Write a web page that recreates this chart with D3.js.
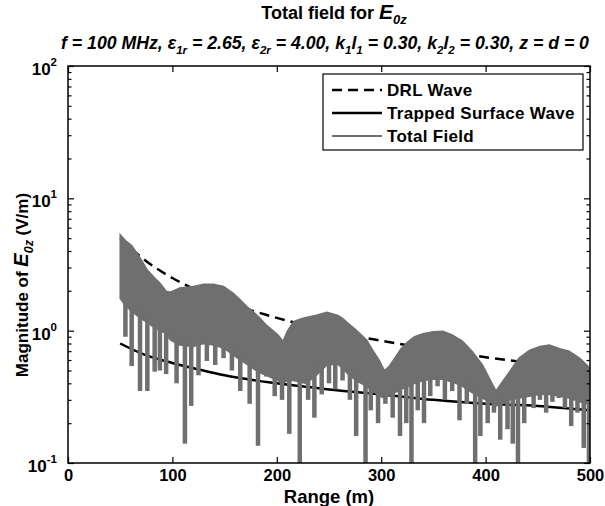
<!DOCTYPE html>
<html>
<head>
<meta charset="utf-8">
<title>Total field for E0z</title>
<script src="https://cdn.jsdelivr.net/npm/d3@7"></script>
<style>
  body { margin: 0; background: #fff; }
  svg text { font-family: "Liberation Sans", Arial, sans-serif; font-weight: bold; fill: #000; }
</style>
</head>
<body>
<svg id="chart" width="605" height="506"></svg>
<script>
// ---- data ----
var rangeTicks = [0, 100, 200, 300, 400, 500];
var decadeTicks = [0.1, 1, 10, 100];
var decadeExp = ["-1", "0", "1", "2"];
var legendNames = ["DRL Wave", "Trapped Surface Wave", "Total Field"];

// DRL wave (dashed)
var drlRange = [50, 60, 75, 100, 125, 150, 175, 200, 250, 300, 350, 400, 450, 500];
var drlValue = [5.0, 4.2, 3.35, 2.5, 2.0, 1.66, 1.43, 1.25, 1.0, 0.84, 0.72, 0.63, 0.56, 0.5];

// trapped surface wave (solid black)
var trappedRange = [50, 75, 100, 125, 150, 200, 250, 300, 350, 400, 450, 500];
var trappedValue = [0.8, 0.65, 0.57, 0.51, 0.46, 0.4, 0.36, 0.33, 0.3, 0.28, 0.27, 0.25];

// total field: upper envelope and the solid lower edge of the band
var fieldRange = [50, 55, 61, 69, 76, 83, 88, 94, 98, 107, 120, 130, 139, 149, 158, 165, 171, 177, 184, 190,
                  201, 206, 210, 216, 222, 228, 238, 248, 258, 263, 268, 276, 286, 292, 298, 303, 307, 313, 319, 326,
                  332, 340, 350, 359, 368, 378, 387, 397, 404, 410, 416, 423, 432, 442, 452, 461, 471, 480, 490, 497, 500];
var fieldUpper = [5.3, 4.8, 4.4, 3.55, 2.87, 2.5, 2.29, 1.99, 1.95, 2.1, 2.16, 2.24, 2.24, 2.16, 1.92, 1.71, 1.53, 1.4, 1.24, 1.1,
                  0.93, 0.83, 0.99, 1.17, 1.22, 1.26, 1.31, 1.38, 1.31, 1.24, 1.14, 1.01, 0.85, 0.71, 0.6, 0.5, 0.53, 0.62, 0.73, 0.83,
                  0.9, 0.95, 0.98, 0.99, 0.93, 0.83, 0.7, 0.55, 0.43, 0.35, 0.41, 0.49, 0.62, 0.71, 0.76, 0.78, 0.73, 0.7, 0.62, 0.55, 0.52];
var fieldBody = [1.75, 1.55, 1.4, 1.25, 1.15, 1.05, 1.0, 0.95, 0.85, 0.78, 0.76, 0.8, 0.78, 0.74, 0.66, 0.6, 0.56, 0.52, 0.48, 0.46,
                 0.42, 0.4, 0.42, 0.42, 0.41, 0.4, 0.46, 0.55, 0.56, 0.52, 0.47, 0.42, 0.38, 0.35, 0.32, 0.31, 0.32, 0.34, 0.36, 0.38,
                 0.4, 0.42, 0.43, 0.43, 0.41, 0.38, 0.34, 0.31, 0.29, 0.27, 0.28, 0.3, 0.31, 0.32, 0.33, 0.33, 0.32, 0.31, 0.29, 0.28, 0.28];

// total field: the dips (nulls) hanging below the band
var spikeRange = [55, 61, 69, 76, 83, 88, 94, 104, 112, 118, 125, 133, 141, 149, 157, 165, 174, 182, 190, 198,
                  205, 212, 222, 230, 236, 243, 250, 256, 263, 270, 276, 285, 290, 297, 304, 311, 318, 324, 329, 335,
                  341, 347, 354, 361, 368, 375, 382, 390, 395, 402, 408, 414, 421, 426, 431, 437, 446, 452, 458, 464,
                  470, 476, 482, 488, 494, 499];
var spikeLow = [0.9, 0.54, 0.35, 0.35, 0.49, 0.5, 0.47, 0.4, 0.14, 0.27, 0.46, 0.59, 0.55, 0.62, 0.5, 0.35, 0.28, 0.135, 0.45, 0.32,
                0.3, 0.166, 0.095, 0.3, 0.22, 0.33, 0.4, 0.36, 0.42, 0.3, 0.16, 0.095, 0.25, 0.2, 0.28, 0.22, 0.16, 0.2, 0.095, 0.25,
                0.2, 0.32, 0.38, 0.3, 0.35, 0.21, 0.28, 0.095, 0.16, 0.2, 0.24, 0.15, 0.18, 0.14, 0.095, 0.2, 0.26, 0.3, 0.24, 0.29,
                0.31, 0.26, 0.19, 0.24, 0.13, 0.095];

// ---- layout ----
var margin = {top: 66, right: 15, bottom: 43, left: 68},
    W = 605, H = 506,
    width = W - margin.left - margin.right,
    height = H - margin.top - margin.bottom;

var svg = d3.select("#chart");
var gray = "#6f6f6f";

var x = d3.scaleLinear().domain([0, 500]).range([margin.left, margin.left + width]);
var y = d3.scaleLog().domain([0.1, 100]).range([margin.top + height, margin.top]);

svg.append("defs").append("clipPath").attr("id", "plotclip")
  .append("rect").attr("x", margin.left).attr("y", margin.top).attr("width", width).attr("height", height);

var plot = svg.append("g").attr("clip-path", "url(#plotclip)");

// DRL wave
plot.append("path").datum(drlRange.map(function(r, i) { return [r, drlValue[i]]; }))
  .attr("fill", "none").attr("stroke", "#000").attr("stroke-width", 2.5)
  .attr("stroke-dasharray", "10,6")
  .attr("d", d3.line().curve(d3.curveMonotoneX).x(function(d) { return x(d[0]); }).y(function(d) { return y(d[1]); }));

// trapped surface wave
plot.append("path").datum(trappedRange.map(function(r, i) { return [r, trappedValue[i]]; }))
  .attr("fill", "none").attr("stroke", "#000").attr("stroke-width", 2.5)
  .attr("d", d3.line().curve(d3.curveMonotoneX).x(function(d) { return x(d[0]); }).y(function(d) { return y(d[1]); }));

// total field band (drawn last, on top, as in the reference)
var band = fieldRange.map(function(r, i) { return {r: r, hi: fieldUpper[i], lo: fieldBody[i]}; });
plot.append("path").datum(band)
  .attr("fill", gray).attr("stroke", gray).attr("stroke-width", 1.5)
  .attr("d", d3.area().x(function(d) { return x(d.r); })
    .y0(function(d) { return y(d.lo); }).y1(function(d) { return y(d.hi); }));

// nulls: from the body of the band down to the dip value
plot.selectAll("line.spike").data(spikeRange).enter().append("line")
  .attr("class", "spike")
  .attr("x1", function(r) { return x(r); }).attr("x2", function(r) { return x(r); })
  .attr("y1", function(r, i) {
    var k = d3.bisectCenter(fieldRange, r);
    var top = Math.max(fieldBody[Math.max(k - 1, 0)], fieldBody[k], fieldBody[Math.min(k + 1, fieldRange.length - 1)]);
    return y(Math.min(top, fieldUpper[k]));
  })
  .attr("y2", function(r, i) { return y(spikeLow[i]); })
  .attr("stroke", gray).attr("stroke-width", 4.5);

// ---- axes (inward ticks on all four sides) ----
var minorTicks = [];
[0.1, 1, 10].forEach(function(b) { for (var m = 2; m <= 9; m++) minorTicks.push(b * m); });

function yTicks(gen, xpos) {
  svg.append("g").attr("transform", "translate(" + xpos + ",0)")
    .call(gen(y).tickValues(decadeTicks).tickFormat("").tickSize(-6).tickSizeOuter(0))
    .call(function(g) { g.select(".domain").remove(); });
  svg.append("g").attr("transform", "translate(" + xpos + ",0)")
    .call(gen(y).tickValues(minorTicks).tickFormat("").tickSize(-3.5).tickSizeOuter(0))
    .call(function(g) { g.select(".domain").remove(); });
}
yTicks(d3.axisLeft, margin.left);
yTicks(d3.axisRight, margin.left + width);

var xb = svg.append("g").attr("transform", "translate(0," + (margin.top + height) + ")")
  .call(d3.axisBottom(x).tickValues(rangeTicks).tickSize(-6).tickSizeOuter(0).tickPadding(6));
xb.select(".domain").remove();
xb.selectAll("text").attr("font-size", 16.5).attr("font-family", null);

var xt = svg.append("g").attr("transform", "translate(0," + margin.top + ")")
  .call(d3.axisTop(x).tickValues(rangeTicks).tickFormat("").tickSize(-6).tickSizeOuter(0));
xt.select(".domain").remove();

svg.selectAll(".tick line").attr("stroke", "#000").attr("stroke-width", 1.2);

svg.append("rect")
  .attr("x", margin.left).attr("y", margin.top).attr("width", width).attr("height", height)
  .attr("fill", "none").attr("stroke", "#000").attr("stroke-width", 1.5);

// log tick labels 10^n
decadeTicks.forEach(function(v, i) {
  var t = svg.append("text").attr("x", margin.left - 11).attr("y", y(v) + 9)
    .attr("text-anchor", "end").attr("font-size", 17);
  t.append("tspan").text("10");
  t.append("tspan").attr("dy", -9).attr("font-size", 11.5).text(decadeExp[i]);
});

// ---- labels ----
var t1 = svg.append("text").attr("x", 334).attr("y", 19).attr("text-anchor", "middle").attr("font-size", 18);
t1.append("tspan").text("Total field for ");
t1.append("tspan").attr("font-style", "italic").attr("font-size", 21).text("E");
t1.append("tspan").attr("dy", 5).attr("font-size", 13).attr("font-style", "italic").text("0z");

var t2 = svg.append("text").attr("x", 325).attr("y", 49).attr("text-anchor", "middle")
  .attr("font-size", 17.7).attr("font-style", "italic");
function sub(txt) { t2.append("tspan").attr("dy", 4.5).attr("font-size", 11.5).text(txt); }
function norm(txt) { t2.append("tspan").attr("dy", -4.5).text(txt); }
t2.append("tspan").text("f = 100 MHz, \u03b5");
sub("1r"); norm(" = 2.65, \u03b5");
sub("2r"); norm(" = 4.00, k");
sub("1"); norm("l");
sub("1"); norm(" = 0.30, k");
sub("2"); norm("l");
sub("2"); norm(" = 0.30, z = d = 0");

svg.append("text").attr("x", margin.left + width / 2).attr("y", 503)
  .attr("text-anchor", "middle").attr("font-size", 18.5).text("Range (m)");

var yl = svg.append("text").attr("transform", "translate(28,285) rotate(-90)")
  .attr("text-anchor", "middle").attr("font-size", 17);
yl.append("tspan").text("Magnitude of ");
yl.append("tspan").attr("font-style", "italic").attr("font-size", 20).text("E");
yl.append("tspan").attr("dy", 5).attr("font-size", 12.5).attr("font-style", "italic").text("0z");
yl.append("tspan").attr("dy", -5).text(" (V/m)");

// ---- legend ----
var lg = svg.append("g");
lg.append("rect").attr("x", 323).attr("y", 74).attr("width", 260).attr("height", 76)
  .attr("fill", "#fff").attr("stroke", "#000").attr("stroke-width", 1.2);
var rowY = [90, 113, 136];
var styles = [
  {stroke: "#000", width: 2.5, dash: "10,6"},
  {stroke: "#000", width: 2.5, dash: null},
  {stroke: gray, width: 2, dash: null}
];
legendNames.forEach(function(name, i) {
  lg.append("line").attr("x1", 332).attr("x2", 382).attr("y1", rowY[i]).attr("y2", rowY[i])
    .attr("stroke", styles[i].stroke).attr("stroke-width", styles[i].width)
    .attr("stroke-dasharray", styles[i].dash);
  lg.append("text").attr("x", 387).attr("y", rowY[i] + 6).attr("font-size", 17)
    .attr("letter-spacing", 0.3).text(name);
});
</script>
</body>
</html>
